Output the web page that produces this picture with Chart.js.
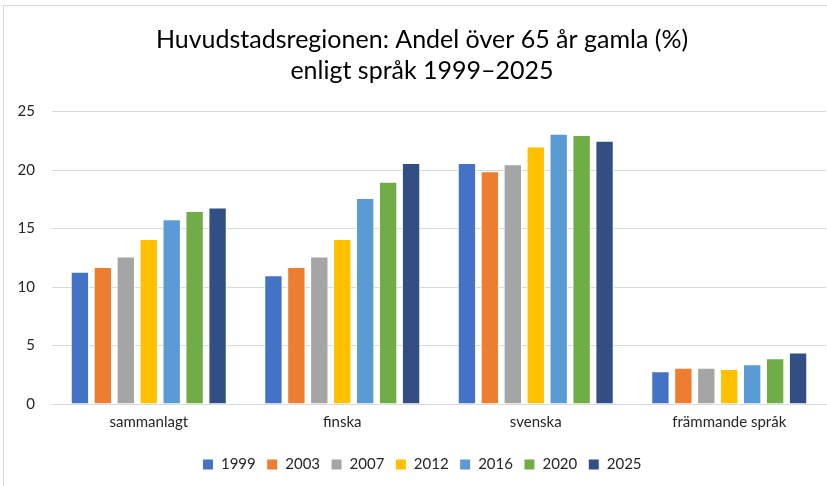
<!DOCTYPE html>
<html>
<head>
<meta charset="utf-8">
<script src="https://cdn.jsdelivr.net/npm/chart.js@4"></script>
<style>
  html, body { margin: 0; padding: 0; background: #fff; }
  #wrap { width: 827px; height: 486px; position: relative; }
</style>
</head>
<body>
<div id="wrap"><canvas id="ageChart"></canvas></div>
<script>
const categories = ['sammanlagt', 'finska', 'svenska', 'främmande språk'];
const years = ['1999', '2003', '2007', '2012', '2016', '2020', '2025'];

const v1999 = [11.3, 11.0, 20.6, 2.8];
const v2003 = [11.7, 11.7, 19.9, 3.1];
const v2007 = [12.6, 12.6, 20.5, 3.1];
const v2012 = [14.1, 14.1, 22.0, 3.0];
const v2016 = [15.8, 17.6, 23.1, 3.4];
const v2020 = [16.5, 19.0, 23.0, 3.9];
const v2025 = [16.8, 20.6, 22.5, 4.4];

const yTicks = [0, 5, 10, 15, 20, 25];

const seriesValues = [v1999, v2003, v2007, v2012, v2016, v2020, v2025];

const barColors = [
  '#4472c4', // blue
  '#ed7d31', // orange
  '#a5a5a5', // gray
  '#ffc000', // yellow
  '#5b9bd5', // light blue
  '#70ad47', // green
  '#314f84'  // dark blue
];

const FONT = 'Lato, "Open Sans", sans-serif';

// light frame round the chart, like the Excel chart area
const framePlugin = {
  id: 'frame',
  beforeDraw(chart) {
    const ctx = chart.ctx;
    ctx.save();
    ctx.strokeStyle = '#d9d9d9';
    ctx.lineWidth = 1;
    ctx.strokeRect(3.5, 5.5, 1000, 1000);
    ctx.restore();
  }
};

const datasets = years.map((y, i) => ({
  label: y,
  data: seriesValues[i],
  backgroundColor: barColors[i],
  borderColor: '#ffffff',
  borderWidth: 1,
  categoryPercentage: 0.83,
  barPercentage: 0.8
}));

new Chart(document.querySelector('#ageChart'), {
  type: 'bar',
  data: { labels: categories, datasets: datasets },
  plugins: [framePlugin],
  options: {
    responsive: true,
    maintainAspectRatio: false,
    animation: false,
    layout: { padding: { left: 18, right: 1, top: 12, bottom: 4 } },
    scales: {
      x: {
        grid: { display: false },
        border: { color: '#d9d9d9' },
        ticks: { color: '#262626', font: { family: FONT, size: 15 }, padding: 1 },
        afterFit(axis) { axis.height += 14; }
      },
      y: {
        min: 0,
        max: 25,
        afterBuildTicks(axis) { axis.ticks = yTicks.map(v => ({ value: v })); },
        afterFit(axis) { axis.width = 34; },
        grid: { color: '#d9d9d9', drawTicks: false },
        border: { display: false },
        ticks: { color: '#262626', font: { family: FONT, size: 15 }, padding: 17 }
      }
    },
    plugins: {
      title: {
        display: true,
        text: ['Huvudstadsregionen: Andel över 65 år gamla (%)', 'enligt språk 1999–2025'],
        color: '#000000',
        font: { family: FONT, size: 25, weight: 'normal', lineHeight: 1.25 },
        padding: { top: 12, bottom: 25 }
      },
      legend: {
        position: 'bottom',
        labels: {
          color: '#262626',
          font: { family: FONT, size: 15 },
          boxWidth: 11,
          boxHeight: 11,
          padding: 11
        }
      },
      tooltip: { enabled: false }
    }
  }
});
</script>
</body>
</html>
